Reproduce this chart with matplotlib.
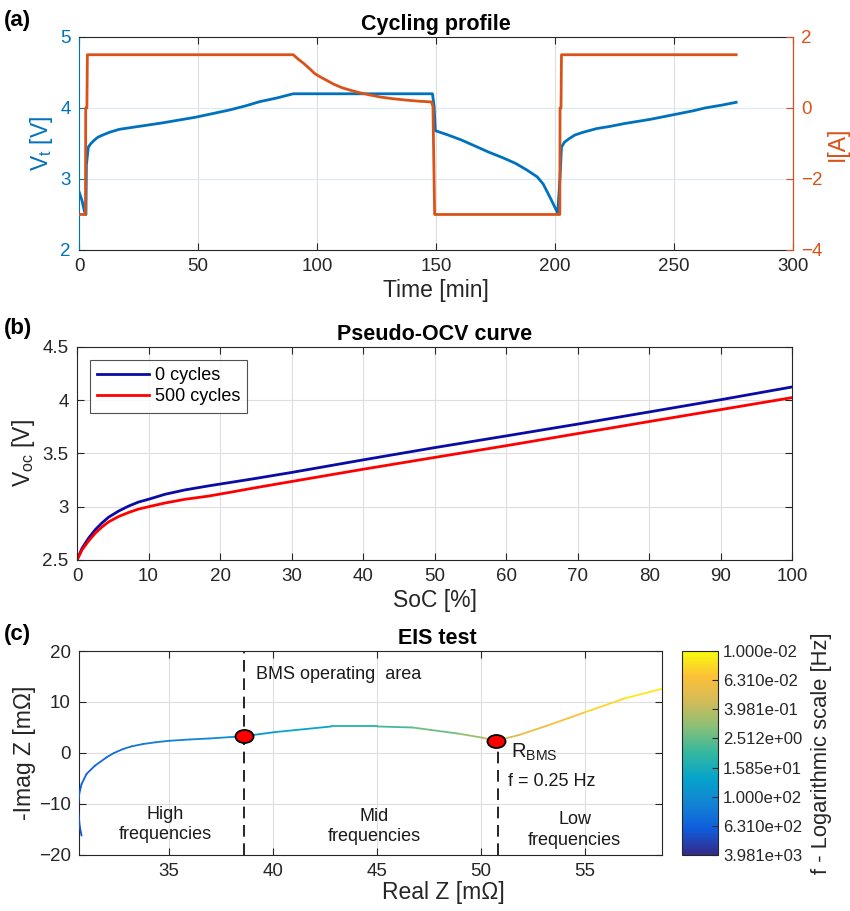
import numpy as np
import matplotlib
matplotlib.use('Agg')
import matplotlib.pyplot as plt
from matplotlib.collections import LineCollection
from matplotlib.colors import LinearSegmentedColormap, Normalize
from matplotlib.path import Path
from matplotlib.transforms import Affine2D
import matplotlib.cm as cm

plt.rcParams['font.family'] = ['Liberation Sans', 'DejaVu Sans']
plt.rcParams['mathtext.fontset'] = 'custom'
plt.rcParams['mathtext.rm'] = 'Liberation Sans'
plt.rcParams['mathtext.it'] = 'Liberation Sans:italic'

# (a) cycling profile
t_volt = [0, 1.2, 2.3, 2.9, 3.1, 3.9, 5.0, 6.5, 8.0, 10.0, 13.0, 17.0, 25.0, 35.0, 42.0, 49.0,
          56.0, 63.0, 70.0, 76.0, 83.0, 90.0, 148.5, 149.2, 149.7,
          155.0, 160.6, 166.0, 172.0, 178.0, 183.4, 188.0, 192.5, 195.0, 197.0, 198.5, 199.8, 201.1,
          202.1, 202.7, 204.0, 206.0, 208.4, 212.0, 217.5, 223.0, 229.0, 240.0, 246.0, 252.0,
          258.0, 263.0, 270.0, 276.1]
volt = [2.82, 2.7, 2.54, 2.5, 3.2, 3.45, 3.50, 3.55, 3.59, 3.62, 3.66, 3.70, 3.74, 3.79, 3.83, 3.87,
        3.92, 3.97, 4.03, 4.09, 4.14, 4.20, 4.20, 4.02, 3.68,
        3.62, 3.55, 3.47, 3.38, 3.30, 3.22, 3.13, 3.03, 2.93, 2.80, 2.70, 2.61, 2.52,
        3.03, 3.45, 3.52, 3.57, 3.62, 3.66, 3.71, 3.74, 3.78, 3.84, 3.88, 3.92,
        3.96, 4.00, 4.04, 4.08]

t_curr = [0, 2.7, 2.8, 3.3, 3.5, 90.0, 92.0, 94.5, 97.0, 99.0, 101.5, 104.0, 107.0, 110.5, 114.0,
          117.3, 122.0, 126.4, 132.0, 137.8, 143.0, 148.1,
          148.7, 149.4, 202.0, 202.1, 202.5, 202.7, 276.1]
curr = [-3, -3, 0, 0, 1.5, 1.5, 1.38, 1.25, 1.1, 0.97, 0.87, 0.78, 0.67, 0.57, 0.5,
        0.44, 0.37, 0.31, 0.26, 0.22, 0.19, 0.17,
        0.04, -3, -3, 0, 0, 1.5, 1.5]

# (b) pseudo-OCV
soc = [0, 0.7, 1.63, 2.56, 3.49, 4.42, 5.81, 7.21, 8.6, 10.0, 12.3, 15.1, 18.4, 21.6, 24.9,
       30, 40, 50, 60, 70, 80, 90, 100]
ocv_0 = [2.5, 2.61, 2.706, 2.785, 2.848, 2.902, 2.959, 3.006, 3.044, 3.07, 3.117, 3.158, 3.196,
         3.23, 3.265, 3.322, 3.44, 3.555, 3.665, 3.776, 3.89, 4.005, 4.125]
ocv_500 = [2.5, 2.595, 2.68, 2.753, 2.81, 2.858, 2.908, 2.946, 2.978, 3.0, 3.035, 3.07, 3.10,
           3.138, 3.178, 3.237, 3.352, 3.463, 3.573, 3.687, 3.80, 3.912, 4.025]

# (c) EIS
z_re = [30.79, 30.71, 30.63, 30.63, 30.68, 30.79, 31.03, 31.43, 31.99, 32.35, 32.79, 33.2, 33.75,
        34.35, 35.03, 36.0, 36.95, 38.6, 40.1, 42.8, 45.0, 46.7, 48.9, 50.06, 50.7, 51.8, 53.2,
        55.0, 56.9, 58.7, 59.5]
z_im = [-16.2, -14.6, -11.3, -10.0, -8.0, -6.1, -4.1, -2.5, -0.86, 0.0, 0.78, 1.3, 1.76,
        2.1, 2.4, 2.65, 2.85, 3.3, 4.1, 5.2, 5.2, 5.0, 3.8, 3.0, 2.4, 3.5, 5.4,
        8.0, 10.7, 12.6, 13.4]
freq = [1200, 1050, 900, 850, 780, 700, 600, 500, 400, 350, 310, 270, 240,
        200, 170, 140, 120, 80, 50, 18, 6.3, 3.2, 1.35, 0.5, 0.25, 0.12, 0.07,
        0.036, 0.02, 0.0126, 0.01]
marker_re = [38.6, 50.7]
marker_im = [3.3, 2.4]
cbar_freqs = [3981, 631.0, 100, 15.85, 2.512, 0.3981, 0.0631, 0.01]

blue = '#0072BD'
orange = '#D95319'
axcol = '#262626'
gridcol = '#dedede'
parula = LinearSegmentedColormap.from_list(
    'parula', ['#352a87', '#0f5cdd', '#1283d4', '#06a4ca', '#33b7a0',
               '#87bf77', '#d1bb59', '#fcc038', '#f9fb0e'])

TICK = 13.5
LAB = 16.5
TITLE = 15.5


def style(ax):
    ax.tick_params(direction='in', length=5, width=0.8, labelsize=TICK, colors=axcol,
                   top=True, right=True, pad=6)
    for s in ax.spines.values():
        s.set_color(axcol)
        s.set_linewidth(0.8)
    ax.grid(True, color=gridcol, lw=0.8)
    ax.set_axisbelow(True)


fig = plt.figure(figsize=(8.5, 9.11), dpi=100)

# ---- (a)
ax1 = fig.add_axes([0.093, 0.7256, 0.84, 0.2338])
style(ax1)
ax1.plot(t_volt, volt, color=blue, lw=2)
ax1.set_xlim(0, 300)
ax1.set_ylim(2, 5)
ax1.set_yticks([2, 3, 4, 5])
ax1.grid(True, axis='y', color='#d9eaf5', lw=0.8)
ax1.tick_params(axis='y', colors=blue, right=False)
ax1.spines['left'].set_color(blue)
ax1.set_ylabel(r'V$_\mathrm{t}$ [V]', color=blue, fontsize=LAB, labelpad=4)
ax1.set_xlabel('Time [min]', fontsize=LAB, color=axcol, labelpad=3)
ax1.set_title('Cycling profile', fontsize=TITLE, fontweight='bold', pad=5)
ax2 = ax1.twinx()
ax2.plot(t_curr, curr, color=orange, lw=2)
ax2.set_ylim(-4, 2)
ax2.set_yticks([-4, -2, 0, 2])
ax2.tick_params(axis='y', direction='in', length=5, width=0.8, labelsize=TICK, colors=orange, pad=6)
for s in ['left', 'top', 'bottom']:
    ax2.spines[s].set_visible(False)
ax2.spines['right'].set_color(orange)
ax2.spines['right'].set_linewidth(0.8)
ax2.set_ylabel('I[A]', color=orange, fontsize=LAB, labelpad=2)

# ---- (b)
axb = fig.add_axes([0.0906, 0.3853, 0.8414, 0.2338])
style(axb)
axb.plot(soc, ocv_0, color='#0a0aa6', lw=2, label='0 cycles')
axb.plot(soc, ocv_500, color='#ff0000', lw=2, label='500 cycles')
axb.set_xlim(0, 100)
axb.set_ylim(2.5, 4.5)
axb.set_xticks(range(0, 101, 10))
axb.set_yticks([2.5, 3, 3.5, 4, 4.5])
axb.set_yticklabels(['2.5', '3', '3.5', '4', '4.5'])
axb.set_xlabel('SoC [%]', fontsize=LAB, color=axcol, labelpad=3)
axb.set_ylabel(r'V$_\mathrm{oc}$ [V]', fontsize=LAB, color=axcol, labelpad=4)
axb.set_title('Pseudo-OCV curve', fontsize=TITLE, fontweight='bold', pad=5)
leg = axb.legend(loc='upper left', fontsize=13, frameon=True, fancybox=False,
                 edgecolor=axcol, handlelength=2.9, handletextpad=0.3,
                 borderaxespad=0.7, labelspacing=0.25, borderpad=0.4)
leg.get_frame().set_linewidth(0.8)

# ---- (c)
axc = fig.add_axes([0.093, 0.0615, 0.686, 0.2239])
style(axc)
cvals = -np.log10(np.array(freq))
norm = Normalize(-np.log10(cbar_freqs[0]), -np.log10(cbar_freqs[-1]))
pts = np.column_stack([z_re, z_im]).reshape(-1, 1, 2)
segs = np.concatenate([pts[:-1], pts[1:]], axis=1)
lc = LineCollection(segs, cmap=parula, norm=norm, lw=1.3, zorder=3, capstyle='round')
lc.set_array((cvals[:-1] + cvals[1:]) / 2)
axc.add_collection(lc)
axc.set_xlim(30.67, 58.7)
axc.set_ylim(-20, 20)
axc.set_xticks([35, 40, 45, 50, 55])
axc.set_yticks([-20, -10, 0, 10, 20])
axc.plot([marker_re[0], marker_re[0]], [-20, 20], color='black', lw=1.2, dashes=(7, 4), zorder=2)
axc.plot([marker_re[1] + 0.1, marker_re[1] + 0.1], [-20, marker_im[1]], color='black', lw=1.2,
         dashes=(7, 4), zorder=2)
ell = Path.unit_circle().transformed(Affine2D().scale(1, 0.72))
axc.plot(marker_re, marker_im, ls='none', marker=ell, ms=13, mfc='#ff0000', mec='black',
         mew=1.3, zorder=5)
txt = dict(fontsize=13, color='#1a1a1a')
axc.text(39.2, 15.4, 'BMS operating  area', va='center', ha='left', **txt)
axc.text(34.8, -14.0, 'High\nfrequencies', va='center', ha='center', linespacing=1.25, **txt)
axc.text(44.86, -14.4, 'Mid\nfrequencies', va='center', ha='center', linespacing=1.25, **txt)
axc.text(54.5, -15.1, 'Low\nfrequencies', va='center', ha='center', linespacing=1.25, **txt)
axc.text(51.45, 0.2, r'R$_{\mathrm{BMS}}$', va='center', ha='left', fontsize=14.5, color='#1a1a1a')
axc.text(51.3, -5.5, 'f = 0.25 Hz', va='center', ha='left', **txt)
axc.set_xlabel('Real Z [mΩ]', fontsize=LAB, color=axcol, labelpad=3)
axc.xaxis.set_label_coords(0.625, -0.13)
axc.set_ylabel('-Imag Z [mΩ]', fontsize=LAB, color=axcol, labelpad=2)
axc.set_title('EIS test', fontsize=TITLE, fontweight='bold', pad=5, x=0.615)

cax = fig.add_axes([0.802, 0.0615, 0.043, 0.2239])
sm = cm.ScalarMappable(norm=norm, cmap=parula)
cb = fig.colorbar(sm, cax=cax)
cb.set_ticks(-np.log10(np.array(cbar_freqs)))
cb.set_ticklabels(['%.3e' % f for f in cbar_freqs])
cb.ax.tick_params(direction='in', length=4, labelsize=12, colors=axcol)
cb.outline.set_edgecolor(axcol)
cb.outline.set_linewidth(0.8)
cb.set_label('f - Logarithmic scale [Hz]', fontsize=15.8, color=axcol, labelpad=6)

fig.text(0.004, 0.989, '(a)', fontsize=16, fontweight='bold', va='top')
fig.text(0.004, 0.651, '(b)', fontsize=16, fontweight='bold', va='top')
fig.text(0.004, 0.315, '(c)', fontsize=16, fontweight='bold', va='top')

fig.savefig('out.png', dpi=100)
